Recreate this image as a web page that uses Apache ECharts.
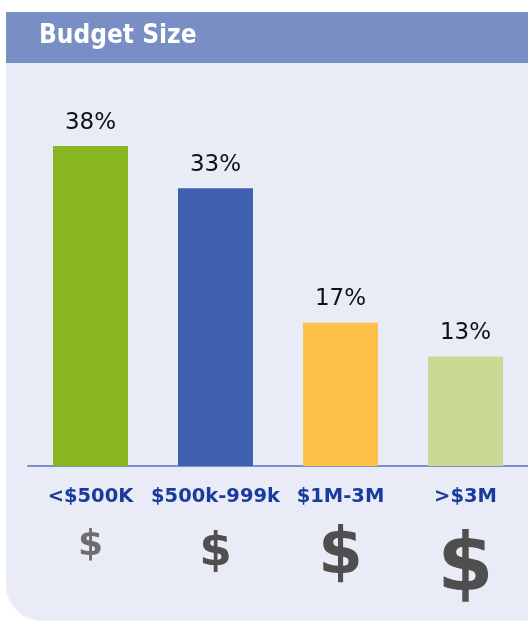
<!DOCTYPE html>
<html>
<head>
<meta charset="utf-8">
<script src="https://cdn.jsdelivr.net/npm/echarts@6/dist/echarts.min.js"></script>
<style>
html, body { margin: 0; padding: 0; background: #fff; }
#chart { width: 528px; height: 623px; }
</style>
</head>
<body>
<div id="chart"></div>
<script>
// budget categories and share of respondents (%)
var categories = ['<$500K', '$500k-999k', '$1M-3M', '>$3M'];
var shares = [38, 33, 17, 13];
var barColors = ['#88B520', '#4060B0', '#FFC04A', '#C8DA94'];

var myChart = echarts.init(document.getElementById('chart'));

myChart.setOption({
  animation: false,
  title: {
    text: 'Budget Size',
    left: 34,
    top: 18,
    textStyle: {
      color: '#fff',
      fontFamily: '"DejaVu Sans Condensed", sans-serif',
      fontWeight: 'bold',
      fontSize: 26
    }
  },
  graphic: [
    {
      type: 'rect', z: -10,
      shape: { x: 6, y: 63, width: 540, height: 558, r: [0, 0, 0, 36] },
      style: { fill: '#E9ECF6' }
    },
    {
      type: 'rect', z: -10,
      shape: { x: 6, y: 12, width: 540, height: 51 },
      style: { fill: '#7A8EC6' }
    }
  ],
  grid: { left: 28, right: 0, top: 45, bottom: 157 },
  xAxis: {
    type: 'category',
    data: categories,
    axisLine: { lineStyle: { color: '#7B8FC8', width: 2 } },
    axisTick: { show: false },
    axisLabel: {
      interval: 0,
      margin: 19,
      formatter: function (v, i) {
        return '{c|' + v + '}\n{d' + i + '|$}';
      },
      rich: {
        c: { fontFamily: 'DejaVu Sans', fontWeight: 'bold', fontSize: 19.5, color: '#1A3A9E', lineHeight: 24 },
        d0: { fontFamily: 'DejaVu Sans', fontWeight: 'bold', fontSize: 36, color: '#6E6E6E', lineHeight: 74 },
        d1: { fontFamily: 'DejaVu Sans', fontWeight: 'bold', fontSize: 47, color: '#4F4F4F', lineHeight: 88 },
        d2: { fontFamily: 'DejaVu Sans', fontWeight: 'bold', fontSize: 64, color: '#4F4F4F', lineHeight: 94 },
        d3: { fontFamily: 'DejaVu Sans', fontWeight: 'bold', fontSize: 81, color: '#4F4F4F', lineHeight: 120 }
      }
    }
  },
  yAxis: {
    type: 'value',
    min: 0,
    max: 50,
    show: false
  },
  series: [
    {
      type: 'bar',
      barWidth: '60%',
      data: shares.map(function (v, i) {
        return { value: v, itemStyle: { color: barColors[i] } };
      }),
      label: {
        show: true,
        position: 'top',
        distance: 12,
        formatter: '{c}%',
        fontFamily: 'DejaVu Sans',
        fontSize: 23,
        color: '#111'
      }
    }
  ]
});
</script>
</body>
</html>
